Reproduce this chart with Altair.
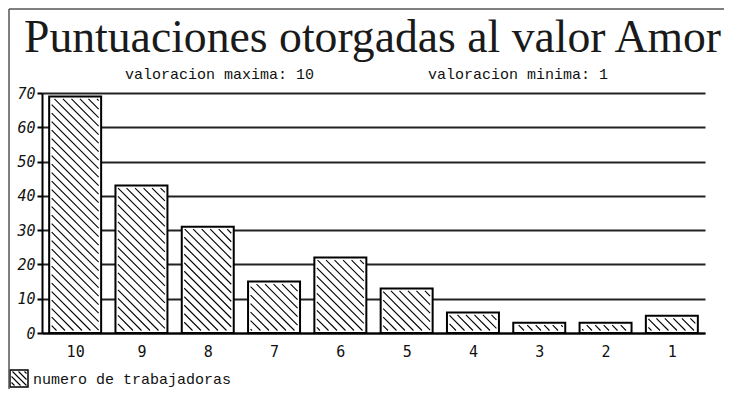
import math
import altair as alt
import pandas as pd

# ---------------- data ----------------
SCORES = [10, 9, 8, 7, 6, 5, 4, 3, 2, 1]
WORKERS = [69, 43, 31, 15, 22, 13, 6, 3, 3, 5]
Y_TICKS = [0, 10, 20, 30, 40, 50, 60, 70]
TITLE = "Puntuaciones otorgadas al valor Amor"
SUB_MAX = "valoracion maxima: 10"
SUB_MIN = "valoracion minima: 1"
LEGEND_LABEL = "numero de trabajadoras"

# ---------------- layout / style ----------------
W, H = 663, 240
X_DOMAIN = [0.5, 10.5]
Y_DOMAIN = [0, 70]
HALF = 0.392          # half bar width in x units
SPACING = 8.5         # hatch spacing (px, horizontal)
INSET = 2.5           # hatch inset inside bar border (px)
MONO = "Liberation Mono"
AXFONT = "'Liberation Sans Narrow', 'DejaVu Sans Mono'"

bars = pd.DataFrame({"score": SCORES, "workers": WORKERS})

# hatch segments inside each bar, derived from the bar values through the scales
sx = W / (X_DOMAIN[1] - X_DOMAIN[0])
sy = H / (Y_DOMAIN[1] - Y_DOMAIN[0])
rows = []
for s, v in zip(SCORES, WORKERS):
    uc = (X_DOMAIN[1] - s) * sx
    u0, u1 = uc - HALF * sx + INSET, uc + HALF * sx - INSET
    v0, v1 = INSET, v * sy - INSET
    if v1 <= v0:
        continue
    k = math.ceil((u0 + v0) / SPACING) * SPACING
    while k < u1 + v1:
        lo = max(u0, k - v1)
        hi = min(u1, k - v0)
        if hi > lo:
            rows.append({"hx1": X_DOMAIN[1] - lo / sx, "hy1": (k - lo) / sy,
                         "hx2": X_DOMAIN[1] - hi / sx, "hy2": (k - hi) / sy})
        k += SPACING
hatch = pd.DataFrame(rows)

# legend swatch hatch (pixel space)
SW = (-32, -14, 277, 294)  # x0, x1, y0, y1 relative to plot origin
lrows = []
c = SW[0] - SW[3]
while c < SW[1] - SW[2]:
    xa = max(SW[0] + 1.5, SW[2] + 1.5 + c)
    xb = min(SW[1] - 1.5, SW[3] - 1.5 + c)
    if xb > xa:
        lrows.append({"lx1": xa, "ly1": xa - c, "lx2": xb, "ly2": xb - c})
    c += 6
lhatch = pd.DataFrame(lrows)

xscale = alt.Scale(domain=X_DOMAIN, reverse=True, nice=False, zero=False)
yscale = alt.Scale(domain=Y_DOMAIN, nice=False, zero=True)

X_AXIS = alt.Axis(values=SCORES, format="d", ticks=False, grid=False,
                  domainColor="black", domainWidth=2, labelFont=AXFONT,
                  labelFontSize=15, labelColor="#111", labelPadding=11,
                  title=None)
Y_AXIS = alt.Axis(values=Y_TICKS, grid=True, gridColor="#222", gridWidth=2,
                  domainColor="black", domainWidth=2, tickColor="black",
                  tickSize=5, tickWidth=2, labelFont=AXFONT, labelFontSize=15,
                  labelFontStyle="italic", labelColor="#111", labelPadding=2,
                  title=None)

bar_layer = alt.Chart(bars).transform_calculate(
    x_lo=f"datum.score - {HALF}", x_hi=f"datum.score + {HALF}"
).mark_rect(fill="white", stroke="black", strokeWidth=2).encode(
    x=alt.X("x_lo:Q", scale=xscale, axis=X_AXIS),
    x2="x_hi:Q",
    y=alt.Y("workers:Q", scale=yscale, axis=Y_AXIS),
    y2=alt.datum(0),
)

hatch_layer = alt.Chart(hatch).mark_rule(color="black", strokeWidth=1.1).encode(
    x=alt.X("hx1:Q", scale=xscale, axis=X_AXIS), x2="hx2:Q",
    y=alt.Y("hy1:Q", scale=yscale, axis=Y_AXIS), y2="hy2:Q",
)

title_layer = alt.Chart(pd.DataFrame({"t": [TITLE]})).mark_text(
    font="Liberation Serif", fontSize=45.7, color="#1a1a1a", align="center",
    baseline="alphabetic").encode(x=alt.value(330.5), y=alt.value(-41), text="t:N")

sub1 = alt.Chart(pd.DataFrame({"t": [SUB_MAX]})).mark_text(
    font=MONO, fontSize=15, color="#111", align="left", baseline="alphabetic"
).encode(x=alt.value(83), y=alt.value(-14), text="t:N")
sub2 = alt.Chart(pd.DataFrame({"t": [SUB_MIN]})).mark_text(
    font=MONO, fontSize=15, color="#111", align="left", baseline="alphabetic"
).encode(x=alt.value(386), y=alt.value(-14), text="t:N")

leg_box = alt.Chart(pd.DataFrame({"t": [LEGEND_LABEL]})).mark_rect(
    fill="white", stroke="black", strokeWidth=1.5
).encode(x=alt.value(SW[0]), x2=alt.value(SW[1]), y=alt.value(SW[2]), y2=alt.value(SW[3]))
leg_hatch = alt.Chart(lhatch).mark_rule(color="black", strokeWidth=1.1).encode(
    x=alt.X("lx1:Q", scale=None), x2="lx2:Q",
    y=alt.Y("ly1:Q", scale=None), y2="ly2:Q",
)
leg_text = alt.Chart(pd.DataFrame({"t": [LEGEND_LABEL]})).mark_text(
    font=MONO, fontSize=15, color="#111", align="left", baseline="alphabetic"
).encode(x=alt.value(-9), y=alt.value(291), text="t:N")

frame_top = alt.Chart(pd.DataFrame({"t": [0]})).mark_rule(color="#555", strokeWidth=1.5).encode(
    x=alt.value(-33), x2=alt.value(W + 19), y=alt.value(-84))
frame_left = alt.Chart(pd.DataFrame({"t": [0]})).mark_rule(color="#555", strokeWidth=1.5).encode(
    x=alt.value(-33), y=alt.value(-84), y2=alt.value(H + 56))

chart = alt.layer(
    bar_layer, hatch_layer, title_layer, sub1, sub2,
    leg_box, leg_hatch, leg_text, frame_top, frame_left
).properties(
    width=W, height=H,
    autosize=alt.AutoSizeParams(type="none"),
    padding={"left": 34, "top": 85, "right": 20, "bottom": 56},
    background="white",
).configure_view(strokeWidth=0)

chart.save("out.html", embed_options={"renderer": "svg", "actions": False})
